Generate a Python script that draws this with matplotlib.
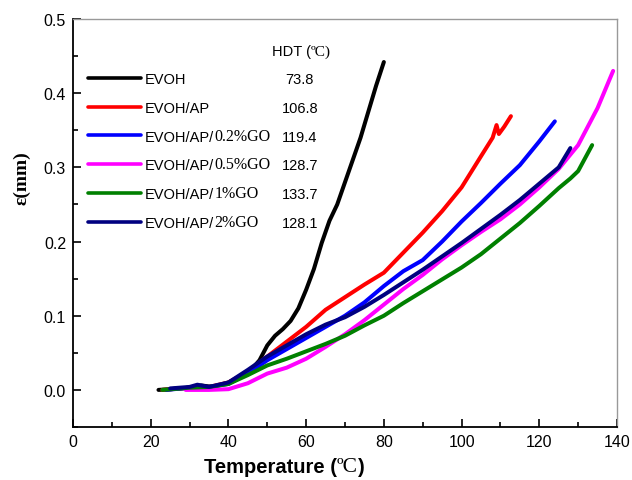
import matplotlib
matplotlib.use("Agg")
import matplotlib.pyplot as plt
from matplotlib.ticker import MultipleLocator

# ---- data ----
evoh_T = [22, 25, 30, 33, 36, 40, 43, 46, 48, 50, 52, 54, 56, 58, 60, 62, 64, 66, 68, 70, 72, 74, 76, 78, 80]
evoh_e = [0, 0.001, 0.003, 0.006, 0.004, 0.01, 0.018, 0.028, 0.04, 0.06, 0.073, 0.082, 0.093, 0.11, 0.135,
          0.163, 0.198, 0.228, 0.25, 0.28, 0.31, 0.34, 0.375, 0.41, 0.442]

ap_T = [23, 30, 35, 40, 45, 50, 55, 60, 65, 70, 75, 80, 85, 90, 95, 100, 105, 108, 109, 109.6, 111, 112.7]
ap_e = [0, 0.003, 0.004, 0.01, 0.025, 0.045, 0.065, 0.085, 0.108, 0.125, 0.142, 0.158, 0.185, 0.212,
        0.241, 0.273, 0.315, 0.34, 0.357, 0.345, 0.355, 0.369]

go02_T = [24, 30, 35, 40, 45, 50, 55, 60, 65, 70, 75, 80, 85, 90, 95, 100, 105, 110, 115, 120, 124]
go02_e = [0, 0.003, 0.004, 0.008, 0.022, 0.04, 0.055, 0.07, 0.085, 0.1, 0.118, 0.14, 0.16, 0.175, 0.2,
          0.227, 0.252, 0.278, 0.303, 0.335, 0.362]

go05_T = [29, 35, 40, 45, 50, 55, 60, 65, 70, 75, 80, 85, 90, 95, 100, 105, 110, 115, 120, 125, 130, 135, 139]
go05_e = [0, 0.0, 0.001, 0.009, 0.022, 0.03, 0.042, 0.058, 0.075, 0.094, 0.115, 0.136, 0.155, 0.176, 0.195,
          0.213, 0.23, 0.25, 0.273, 0.298, 0.33, 0.38, 0.43]

go1_T = [23, 30, 35, 40, 45, 50, 55, 60, 65, 70, 75, 80, 85, 90, 95, 100, 105, 110, 115, 120, 125, 128, 130, 133.6]
go1_e = [0, 0.003, 0.004, 0.008, 0.02, 0.033, 0.042, 0.052, 0.062, 0.073, 0.087, 0.1, 0.117, 0.133, 0.149,
         0.165, 0.183, 0.204, 0.225, 0.248, 0.272, 0.285, 0.295, 0.33]

go2_T = [25, 30, 32, 35, 40, 45, 50, 55, 60, 65, 70, 75, 80, 85, 90, 95, 100, 105, 110, 115, 120, 125, 128]
go2_e = [0.002, 0.004, 0.007, 0.004, 0.01, 0.027, 0.045, 0.06, 0.075, 0.088, 0.098, 0.112, 0.128, 0.145,
         0.162, 0.18, 0.198, 0.217, 0.236, 0.256, 0.278, 0.3, 0.326]

label_sans = ["EVOH", "EVOH/AP", "EVOH/AP/", "EVOH/AP/", "EVOH/AP/", "EVOH/AP/"]
label_serif = ["", "", "0.2%GO", "0.5%GO", "1%GO", "2%GO"]
hdt_values = ["73.8", "106.8", "119.4", "128.7", "133.7", "128.1"]
colors = ["#000000", "#ff0000", "#0000ff", "#ff00ff", "#008000", "#000080"]

series = [(evoh_T, evoh_e), (ap_T, ap_e), (go02_T, go02_e), (go05_T, go05_e), (go1_T, go1_e), (go2_T, go2_e)]

# ---- figure ----
fig = plt.figure(figsize=(6.32, 4.81), dpi=100)
ax = fig.add_axes([73/632, 1-428/481, 544/632, 408/481])

SANS = "Liberation Sans"
SERIF = "Liberation Serif"

lines = []
for (T, e), c in zip(series, colors):
    ln, = ax.plot(T, e, color=c, lw=2.9, solid_capstyle="round", solid_joinstyle="round")
    lines.append(ln)

ax.set_xlim(0, 140)
ax.set_ylim(-0.05, 0.5)
ax.xaxis.set_major_locator(MultipleLocator(20))
ax.xaxis.set_minor_locator(MultipleLocator(10))
ax.yaxis.set_major_locator(MultipleLocator(0.1))
ax.yaxis.set_minor_locator(MultipleLocator(0.05))
ax.set_yticks([0.0, 0.1, 0.2, 0.3, 0.4, 0.5])
ax.set_yticklabels(["0.0", "0.1", "0.2", "0.3", "0.4", "0.5"])
ax.tick_params(which="both", direction="in", top=False, right=False, width=1.2)
ax.tick_params(which="major", length=6, labelsize=11.5, pad=5)
ax.tick_params(which="minor", length=3.5)
for lab in ax.get_xticklabels() + ax.get_yticklabels():
    lab.set_fontfamily(SANS)

for s in ["left", "bottom"]:
    ax.spines[s].set_linewidth(1.3)
    ax.spines[s].set_color("black")
for s in ["top", "right"]:
    ax.spines[s].set_linewidth(1.0)
    ax.spines[s].set_color("#999999")

# legend
leg = ax.legend(lines, label_sans, loc="upper left", bbox_to_anchor=(0.017, 0.885),
                frameon=False, handlelength=3.6, handletextpad=0.3, labelspacing=1.02,
                prop={"family": SANS, "size": 10.5}, borderaxespad=0)
leg.set_zorder(5)
for ln in leg.get_lines():
    ln.set_linewidth(2.6)
leg_texts = leg.get_texts()
for t, extra in zip(leg_texts, label_serif):
    if extra:
        ax.annotate(extra, xy=(1, 0), xycoords=t, va="bottom", ha="left",
                    fontfamily=SERIF, fontsize=11.5, zorder=10)

# HDT column
ax.text(0.437, 0.922, "HDT (", transform=ax.transAxes, ha="right", va="center",
        fontfamily=SANS, fontsize=10.5)
ax.text(0.437, 0.922, "ºC)", transform=ax.transAxes, ha="left", va="center",
        fontfamily=SERIF, fontsize=11)
for t, v in zip(leg_texts, hdt_values):
    ax.annotate(v, xy=(0.417, 0.5), xycoords=("axes fraction", t), ha="center", va="center",
                fontfamily=SANS, fontsize=10.5, zorder=10)

# axis labels
xl1 = fig.text(337/632, 1-468/481, "Temperature (", ha="right", va="center",
               fontfamily=SANS, fontweight="bold", fontsize=14.5)
xl2 = ax.annotate("ºC", xy=(1, 0), xycoords=xl1, va="bottom", ha="left",
                  fontfamily=SERIF, fontsize=15.5, annotation_clip=False)
ax.annotate(")", xy=(1, 0), xycoords=xl2, va="bottom", ha="left",
            fontfamily=SANS, fontweight="bold", fontsize=14.5, annotation_clip=False)

fig.text(22/632, 1-178/481, "ε(mm)", rotation=90, ha="center", va="center",
         fontfamily=SERIF, fontweight="bold", fontsize=14)

fig.savefig("out.png", dpi=100)
